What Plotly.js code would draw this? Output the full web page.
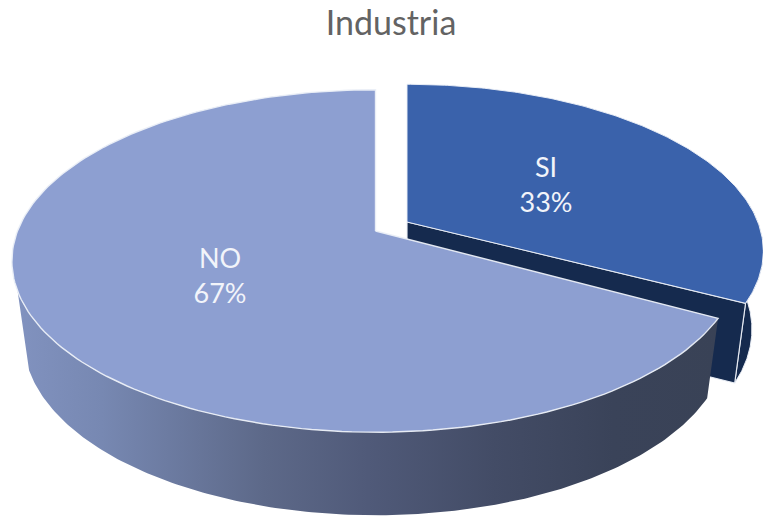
<!DOCTYPE html>
<html>
<head>
<meta charset="utf-8">
<script src="https://cdn.plot.ly/plotly-3.0.1.min.js"></script>
<style>html,body{margin:0;padding:0;background:#fff;overflow:hidden}#c{width:763px;height:516px}</style>
</head>
<body>
<div id="c"></div>
<script>
// Chart data
var chartTitle = 'Industria';
var categories = ['SI', 'NO'];
var values = [33, 67];

// Styles
var topColors = ['#3a62ab', '#8d9fd1'];
var edgeColor = 'rgba(235,239,247,0.95)';
var siWallColor = '#152a4e';
var noWallStops = [[0,'#8192bf'],[0.12,'#7788b2'],[0.35,'#5d6989'],[0.5,'#505a79'],[0.68,'#434c66'],[0.85,'#3a4359'],[1,'#394256']];
var labelFont = {family:'Lato, Carlito, sans-serif', size:27, color:'#f2f4fa'};

// Perspective projection of the tilted pie: angle is clockwise from twelve o'clock.
var k = 0.175, A = 358, B = 166, shrink = 0.968;
function rim(angle, c, aScale, bScale) {
  var w = 1 + k * Math.cos(angle);
  return [c[0] + A * aScale * Math.sin(angle) / w, c[1] - B * bScale * Math.cos(angle) / w];
}
function arc(from, to, fn) {
  var pts = [], n = 180;
  for (var i = 0; i <= n; i++) pts.push(fn(from + (to - from) * i / n));
  return pts;
}
function poly(pts, extra) {
  var t = {type:'scatter', mode:'lines', x:pts.map(function(p){return p[0];}).concat(pts[0][0]),
           y:pts.map(function(p){return p[1];}).concat(pts[0][1]), fill:'toself', hoverinfo:'skip', showlegend:false};
  for (var key in extra) t[key] = extra[key];
  return t;
}
function lowerOf(topFn, c) {
  return function(a) {
    var p = topFn(a);
    return [c[0] + shrink * (p[0] - c[0]), p[1] + 77 - 6 * Math.cos(a)];
  };
}

var total = values.reduce(function(a, b){ return a + b; }, 0);
var split = 2 * Math.PI * values[0] / total;
var cNo = [375.5, 231], cSi = [407, 222];
var siSplit = split - 1.3 * Math.PI / 180;

var siTopRim = function(a){ return rim(a, cSi, 0.98, 0.975); };
var siLow = lowerOf(siTopRim, cSi);
var noTopRim = function(a){ return rim(a, cNo, 1, 1); };
var noLow = lowerOf(noTopRim, cNo);
var wallEnd = 250 * Math.PI / 180;

var siCorner = siTopRim(siSplit), siCornerLow = siLow(siSplit);
var traces = [
  // SI outer wall
  poly(arc(siSplit - 0.6, siSplit, siTopRim).concat(arc(siSplit, siSplit - 0.6, siLow)),
       {fillcolor:siWallColor, line:{color:edgeColor, width:1}}),
  // SI cut face
  poly([cSi, siCorner, siCornerLow, [cSi[0], cSi[1] + 80]],
       {fillcolor:siWallColor, line:{color:edgeColor, width:1.2}}),
  // SI top
  poly([cSi].concat(arc(0, siSplit, siTopRim)),
       {fillcolor:topColors[0], line:{color:edgeColor, width:1}}),
  // NO wall
  poly(arc(split, wallEnd, noTopRim).concat(arc(wallEnd, split, noLow)),
       {fillcolor:'#505a79', fillgradient:{type:'horizontal', colorscale:noWallStops}, line:{color:'rgba(255,255,255,0)', width:0}}),
  // NO top
  poly([cNo].concat(arc(split, 2 * Math.PI, noTopRim)),
       {fillcolor:topColors[1], line:{color:edgeColor, width:1.4}}),
  // Labels
  {type:'scatter', mode:'text', x:[546, 220], y:[188, 279],
   text:categories.map(function(c, i){ return c + '<br>' + Math.round(values[i] / total * 100) + '%'; }),
   textposition:'middle center', textfont:labelFont, hoverinfo:'skip', showlegend:false}
];

var layout = {
  width:763, height:516, margin:{l:0,r:0,t:0,b:0}, showlegend:false,
  paper_bgcolor:'#fff', plot_bgcolor:'#fff',
  title:{text:chartTitle, x:391/763, xanchor:'center', y:0.956, yanchor:'middle',
         font:{family:'Lato, Carlito, sans-serif', size:34, color:'#636363'}},
  xaxis:{range:[0,763], visible:false, fixedrange:true},
  yaxis:{range:[516,0], visible:false, fixedrange:true}
};
Plotly.newPlot('c', traces, layout, {displayModeBar:false, staticPlot:true});
</script>
</body>
</html>
